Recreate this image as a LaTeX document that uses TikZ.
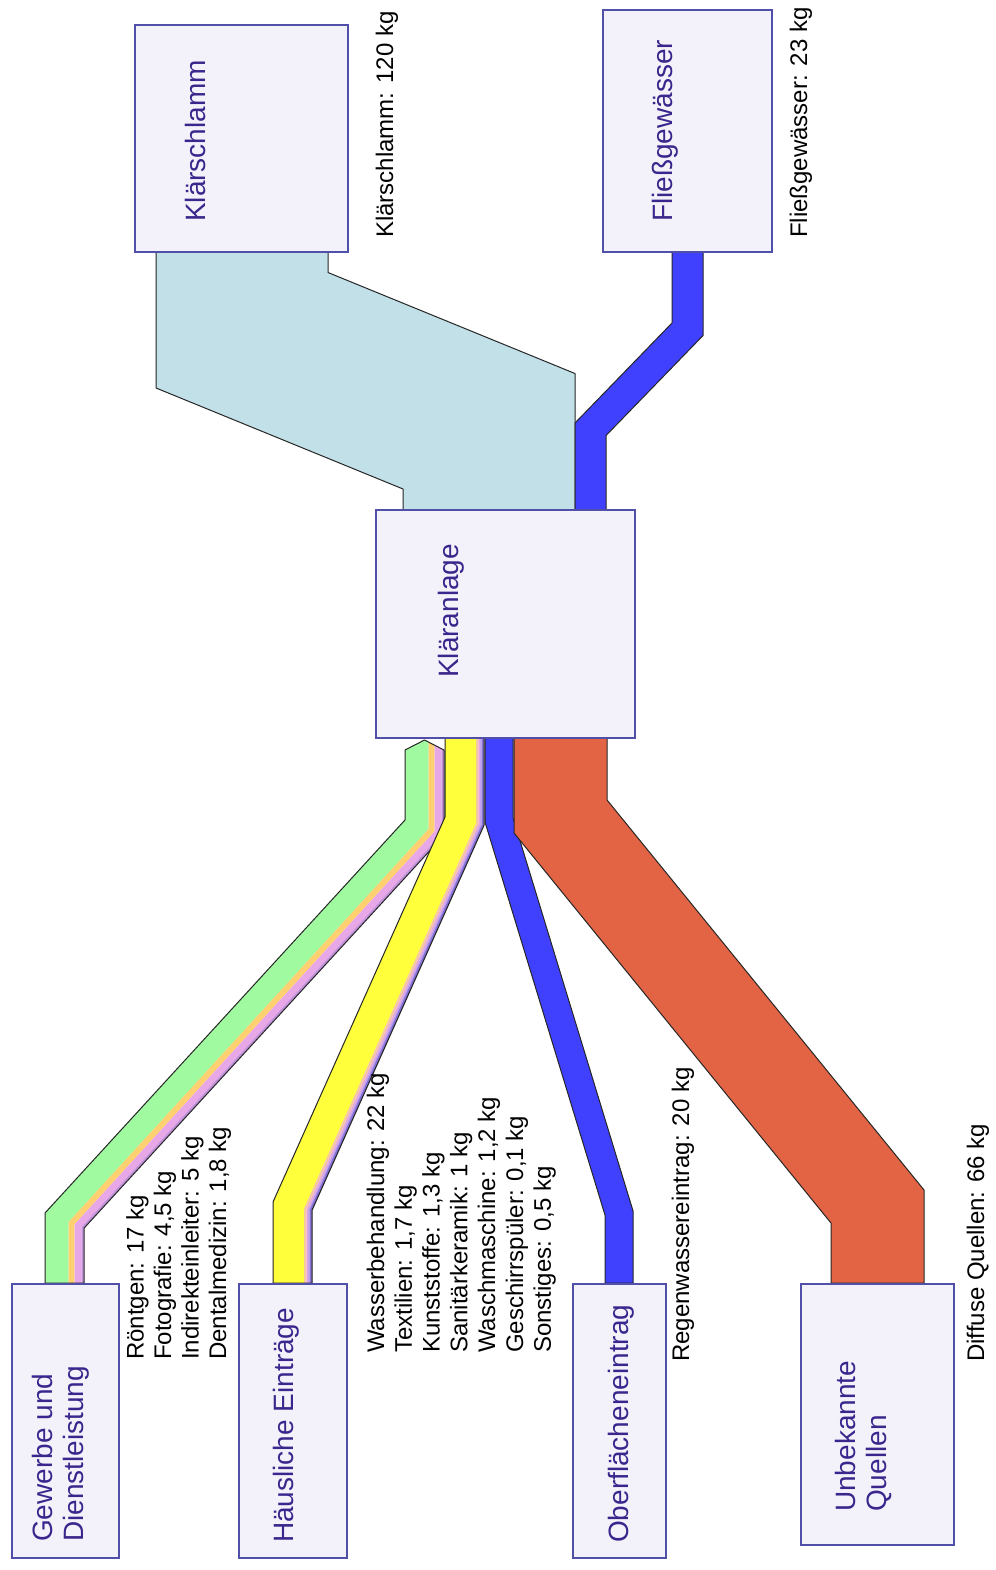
\documentclass[tikz,border=0pt]{standalone}
\usepackage{fontspec}
\setmainfont{Liberation Sans}
\definecolor{boxfill}{RGB}{243,242,250}
\definecolor{boxline}{RGB}{80,80,168}
\definecolor{boxtext}{RGB}{58,38,140}
\definecolor{cgreen}{RGB}{160,250,160}
\definecolor{corange}{RGB}{255,208,112}
\definecolor{cpink}{RGB}{232,168,232}
\definecolor{clilac}{RGB}{192,144,216}
\definecolor{cyellow}{RGB}{255,255,60}
\definecolor{cpeach}{RGB}{245,200,160}
\definecolor{cpinktwo}{RGB}{232,168,216}
\definecolor{clav}{RGB}{192,160,240}
\definecolor{cpurple}{RGB}{136,112,216}
\definecolor{cdark}{RGB}{80,64,160}
\definecolor{cblue}{RGB}{64,64,255}
\definecolor{cred}{RGB}{226,100,68}
\definecolor{csludge}{RGB}{193,224,232}
% stripe of a band: colour, offset a, offset b, start-y at a, start-y at b
\newcommand{\fstripe}[5]{\fill[#1] (\FXa+#2,#4) -- (\FXa+#2,\FYb+\FK*#2) -- (\FXc+#2,\FYc+\FK*#2) -- (\FXc+#2,\FYd) -- (\FXc+#3,\FYd) -- (\FXc+#3,\FYc+\FK*#3) -- (\FXa+#3,\FYb+\FK*#3) -- (\FXa+#3,#5) -- cycle;}
\newcommand{\foutline}[1]{\draw[flowline] (\FXa,\FYa) -- (\FXa,\FYb) -- (\FXc,\FYc) -- (\FXc,\FYd) -- (\FXc+#1,\FYd) -- (\FXc+#1,\FYc+\FK*#1) -- (\FXa+#1,\FYb+\FK*#1) -- (\FXa+#1,\FYa) -- cycle;}
\begin{document}
\begin{tikzpicture}[x=1pt,y=-1pt,
  box/.style={draw=boxline, line width=1.8pt, fill=boxfill, inner sep=0pt},
  boxlabel/.style={rotate=90, anchor=base west, inner sep=0pt, text=boxtext, font=\fontsize{28}{31}\selectfont},
  vlabel/.style={rotate=90, anchor=base west, inner sep=0pt, text=black, font=\fontsize{24}{27}\selectfont},
  flowline/.style={draw=black!85, line width=1pt, line join=round}]
\fill[white] (0,0) rectangle (995,1570);
\useasboundingbox (0,0) rectangle (995,1570);

% ---- Klärschlamm flow
\def\FXa{403}\def\FYa{510}\def\FYb{489}\def\FXc{156}\def\FYc{388}\def\FYd{252}\def\FK{-0.6714}
\fstripe{csludge}{0}{172}{510}{510}
\foutline{172}
% ---- Fließgewässer flow
\def\FXa{575}\def\FYa{510}\def\FYb{423}\def\FXc{672}\def\FYc{323}\def\FYd{252}\def\FK{0.405}
\fstripe{cblue}{0}{31}{510}{510}
\foutline{31}

% ---- Gewerbe flow
\def\FXa{405}\def\FYa{750}\def\FYb{820}\def\FXc{45}\def\FYc{1213}\def\FYd{1283}\def\FK{0.3887}
\fstripe{cgreen}{0}{23.5}{750}{742.05}
\fill[cgreen] (405,750) -- (424.5,740) -- (428.5,742.05) -- cycle;
\fstripe{corange}{23.5}{29.5}{742.05}{745.13}
\fstripe{cpink}{29.5}{36.5}{745.13}{748.72}
\fstripe{clilac}{36.5}{39}{748.72}{750}
\draw[flowline] (405,820) -- (405,750) -- (424.5,740) -- (444,750) -- (444,835.2) -- (84,1228.2) -- (84,1283) -- (45,1283) -- (45,1213) -- cycle;

% ---- Häusliche flow
\def\FXa{445}\def\FYa{738}\def\FYb{817}\def\FXc{273}\def\FYc{1202}\def\FYd{1283}\def\FK{0.2144}
\fstripe{cyellow}{0}{31}{738}{738}
\fstripe{cpeach}{31}{33.4}{738}{738}
\fstripe{cpinktwo}{33.4}{35.2}{738}{738}
\fstripe{clav}{35.2}{36.6}{738}{738}
\fstripe{cpurple}{36.6}{38.3}{738}{738}
\fstripe{cdark}{38.3}{39}{738}{738}
\foutline{39}

% ---- Oberflächeneintrag flow
\def\FXa{485}\def\FYa{738}\def\FYb{822}\def\FXc{605}\def\FYc{1215}\def\FYd{1283}\def\FK{-0.15}
\fstripe{cblue}{0}{28}{738}{738}
\foutline{28}

% ---- Unbekannte Quellen flow
\def\FXa{514}\def\FYa{738}\def\FYb{833}\def\FXc{831}\def\FYc{1223}\def\FYd{1283}\def\FK{-0.3553}
\fstripe{cred}{0}{93}{738}{738}
\foutline{93}

% ---- boxes
\node[box, minimum width=213pt, minimum height=227pt] (sludge) at (241.5,138.5) {};
\node[box, minimum width=169pt, minimum height=242pt] (river) at (687.5,131) {};
\node[box, minimum width=259pt, minimum height=228pt] (plant) at (505.5,624) {};
\node[box, minimum width=107pt, minimum height=274pt] (trade) at (65.5,1421) {};
\node[box, minimum width=108pt, minimum height=274pt] (home) at (293,1421) {};
\node[box, minimum width=93pt, minimum height=274pt] (surface) at (619.5,1421) {};
\node[box, minimum width=153pt, minimum height=261pt] (unknown) at (877.5,1414.5) {};

% ---- box texts
\node[boxlabel] (tsludge) at (205,222) {Klärschlamm};
\node[boxlabel] (triver) at (672,222) {Fließgewässer};
\node[boxlabel] (tplant) at (458,678) {Kläranlage};
\node[boxlabel] (ttradea) at (52,1542) {Gewerbe und};
\node[boxlabel] (ttradeb) at (83,1542) {Dienstleistung};
\node[boxlabel] (thome) at (293,1543) {Häusliche Einträge};
\node[boxlabel] (tsurface) at (628,1543) {Oberflächeneintrag};
\node[boxlabel] (tunknowna) at (855,1512) {Unbekannte};
\node[boxlabel] (tunknownb) at (886,1512) {Quellen};

% ---- flow labels
\node[vlabel] (lsludge) at (393,238) {Klärschlamm: 120 kg};
\node[vlabel] (lriver) at (807,238) {Fließgewässer: 23 kg};
\node[vlabel] (lt1) at (143.5,1360) {Röntgen: 17 kg};
\node[vlabel] (lt2) at (171,1360) {Fotografie: 4,5 kg};
\node[vlabel] (lt3) at (198.5,1360) {Indirekteinleiter: 5 kg};
\node[vlabel] (lt4) at (226,1360) {Dentalmedizin: 1,8 kg};
\node[vlabel] (lh1) at (384,1353) {Wasserbehandlung: 22 kg};
\node[vlabel] (lh2) at (411.8,1353) {Textilien: 1,7 kg};
\node[vlabel] (lh3) at (439.6,1353) {Kunststoffe: 1,3 kg};
\node[vlabel] (lh4) at (467.4,1353) {Sanitärkeramik: 1 kg};
\node[vlabel] (lh5) at (495.2,1353) {Waschmaschine: 1,2 kg};
\node[vlabel] (lh6) at (523,1353) {Geschirrspüler: 0,1 kg};
\node[vlabel] (lh7) at (550.8,1353) {Sonstiges: 0,5 kg};
\node[vlabel] (lsurface) at (689,1362) {Regenwassereintrag: 20 kg};
\node[vlabel] (lunknown) at (984,1362) {Diffuse Quellen: 66 kg};
\end{tikzpicture}
\end{document}
